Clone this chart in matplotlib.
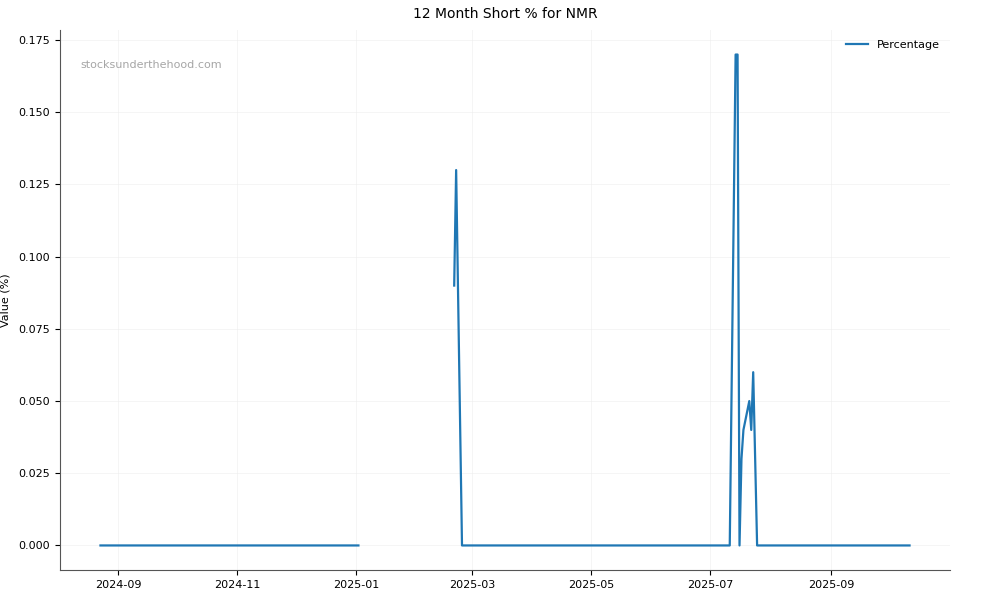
import matplotlib
matplotlib.use("Agg")
import matplotlib.pyplot as plt
import numpy as np
import pandas as pd

# short % readings (gap between early Jan and late Feb has no data)
dates = ["2024-08-23", "2025-01-02", "2025-01-03",
         "2025-02-20", "2025-02-21", "2025-02-24",
         "2025-07-11", "2025-07-14", "2025-07-15", "2025-07-16",
         "2025-07-17", "2025-07-18", "2025-07-21", "2025-07-22",
         "2025-07-23", "2025-07-25", "2025-10-11"]
values = [0.0, 0.0, np.nan,
          0.09, 0.13, 0.0,
          0.0, 0.17, 0.17, 0.0,
          0.03, 0.04, 0.05, 0.04,
          0.06, 0.0, 0.0]

title = "12 Month Short % for NMR"
ylabel = "Value (%)"
watermark = "stocksunderthehood.com"

x = pd.to_datetime(dates)

fig = plt.figure(figsize=(10, 6), dpi=100)
ax = fig.add_axes([0.06, 0.05, 0.89, 0.90])

ax.plot(x, values, color="#1f77b4", linewidth=1.6, label="Percentage")

ax.set_title(title, fontsize=10, pad=9)
ax.set_ylabel(ylabel, fontsize=8, labelpad=6)
ax.tick_params(labelsize=8)
ax.grid(True, color="#eeeeee", linewidth=0.6, alpha=0.7)
ax.spines["top"].set_visible(False)
ax.spines["right"].set_visible(False)
ax.spines["left"].set_color("#555555")
ax.spines["bottom"].set_color("#555555")

ax.xaxis.set_major_locator(matplotlib.dates.MonthLocator(bymonth=[1, 3, 5, 7, 9, 11]))
ax.xaxis.set_major_formatter(matplotlib.dates.DateFormatter("%Y-%m"))

ax.text(0.023, 0.93, watermark, transform=ax.transAxes, fontsize=8,
        color="gray", alpha=0.7)
ax.legend(loc="upper right", frameon=False, fontsize=8)

fig.savefig("out.png", dpi=100)
plt.close()
